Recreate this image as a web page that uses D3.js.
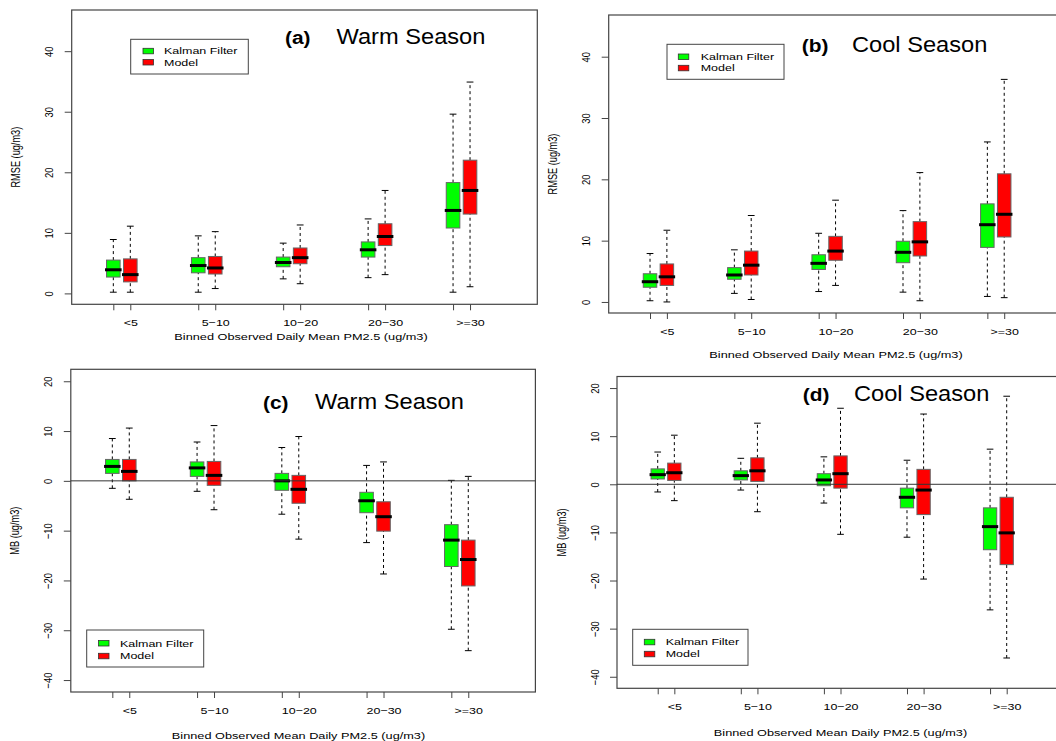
<!DOCTYPE html>
<html>
<head>
<meta charset="utf-8">
<script src="https://cdn.jsdelivr.net/npm/d3@7"></script>
<style>
  body { margin: 0; background: #fff; }
  svg { display: block; }
  text { font-family: "Liberation Sans", Arial, sans-serif; fill: #000; }
</style>
</head>
<body>
<div id="vis-container"></div>
<script>
// bins of observed PM2.5 (x categories)
const bins = ["<5", "5\u221210", "10\u221220", "20\u221230", ">=30"];
const seriesNames = ["Kalman Filter", "Model"];
const seriesColors = ["#00ff00", "#ff0000"];
const rmseTicks = [0, 10, 20, 30, 40];
const mbTicks = [-40, -30, -20, -10, 0, 10, 20];

// each box: [lower whisker, q1, median, q3, upper whisker]
const rmseWarmKalman = [[0.2, 2.7, 3.9, 5.5, 8.9], [0.2, 3.4, 4.6, 5.9, 9.5], [2.4, 4.4, 5.1, 6.0, 8.3], [2.6, 6.0, 7.2, 8.5, 12.3], [0.2, 10.8, 13.7, 18.3, 29.6]];
const rmseWarmModel = [[0.2, 1.9, 3.1, 5.7, 11.1], [0.8, 3.2, 4.2, 6.1, 10.2], [1.6, 4.9, 5.9, 7.5, 11.3], [3.1, 7.9, 9.4, 11.5, 17.0], [1.1, 13.1, 17.0, 22.0, 34.9]];
const rmseCoolKalman = [[0.2, 2.4, 3.3, 4.6, 7.9], [1.4, 3.7, 4.4, 5.6, 8.5], [1.7, 5.3, 6.3, 7.7, 11.2], [1.6, 6.4, 8.1, 9.9, 14.9], [0.9, 8.9, 12.6, 16.0, 26.1]];
const rmseCoolModel = [[0.0, 2.7, 4.1, 6.2, 11.7], [0.4, 4.4, 6.0, 8.3, 14.1], [2.7, 6.8, 8.3, 10.7, 16.6], [0.2, 7.5, 9.8, 13.1, 21.1], [0.7, 10.6, 14.3, 20.9, 36.3]];
const mbWarmKalman = [[-1.5, 1.5, 2.9, 4.3, 8.5], [-2.1, 0.9, 2.6, 3.8, 7.8], [-6.7, -1.9, 0.0, 1.5, 6.7], [-12.4, -6.4, -4.0, -2.3, 3.1], [-29.8, -17.2, -11.9, -8.8, 0.1]];
const mbWarmModel = [[-3.7, 0.0, 1.9, 4.3, 10.6], [-5.8, -0.9, 1.1, 3.9, 11.1], [-11.7, -4.5, -1.7, 1.1, 8.9], [-18.7, -10.1, -7.2, -4.2, 3.8], [-34.1, -21.1, -15.8, -11.9, 0.9]];
const mbCoolKalman = [[-1.6, 1.1, 2.0, 3.2, 6.7], [-1.2, 0.9, 1.8, 2.8, 5.4], [-3.9, -0.3, 0.9, 2.2, 5.7], [-11.0, -4.9, -2.7, -0.8, 5.0], [-26.1, -13.6, -8.8, -4.9, 7.3]];
const mbCoolModel = [[-3.4, 0.8, 2.4, 4.4, 10.2], [-5.7, 0.6, 2.8, 5.5, 12.7], [-10.4, -0.8, 2.2, 5.9, 15.8], [-19.7, -6.3, -1.2, 3.1, 14.6], [-36.1, -16.7, -10.1, -2.7, 18.3]];

const svg = d3
  .select("#vis-container")
  .append("svg")
  .attr("width", 1056)
  .attr("height", 741);

const panels = [
  {
    left: 71.7, right: 537.3, top: 10, bottom: 304.3, ylim: [-1.8, 46.8], ticks: rmseTicks,
    kalman: rmseWarmKalman, model: rmseWarmModel, ytitle: "RMSE (ug/m3)",
    xtitle: "Binned Observed Daily Mean PM2.5 (ug/m3)", xtitleX: 301, xtitleY: 340,
    tag: "(a)", tagX: 285, season: "Warm Season", seasonX: 336.5, titleY: 44.3,
    legend: { x: 130.7, y: 39.3, w: 117.6, h: 34.7, sq: 143, tx: 164, b1: 54.3, b2: 65.5 },
    zero: false
  },
  {
    left: 608.7, right: 1071, top: 15, bottom: 313, ylim: [-1.8, 46.8], ticks: rmseTicks,
    kalman: rmseCoolKalman, model: rmseCoolModel, ytitle: "RMSE (ug/m3)",
    xtitle: "Binned Observed Daily Mean PM2.5 (ug/m3)", xtitleX: 836, xtitleY: 357.5,
    tag: "(b)", tagX: 801.7, season: "Cool Season", seasonX: 852, titleY: 51.5,
    legend: { x: 667, y: 44.3, w: 117, h: 35, sq: 678.3, tx: 700.7, b1: 60, b2: 71.3 },
    zero: false
  },
  {
    left: 70.8, right: 535.4, top: 369.3, bottom: 692, ylim: [-42.4, 22.4], ticks: mbTicks,
    kalman: mbWarmKalman, model: mbWarmModel, ytitle: "MB (ug/m3)",
    xtitle: "Binned Observed Mean Daily PM2.5 (ug/m3)", xtitleX: 298.5, xtitleY: 739,
    tag: "(c)", tagX: 263, season: "Warm Season", seasonX: 315, titleY: 409.3,
    legend: { x: 86.7, y: 630, w: 117, h: 37, sq: 98.5, tx: 120, b1: 646.5, b2: 659.3 },
    zero: true
  },
  {
    left: 617, right: 1072.5, top: 376.5, bottom: 688.3, ylim: [-42.4, 22.4], ticks: mbTicks,
    kalman: mbCoolKalman, model: mbCoolModel, ytitle: "MB (ug/m3)",
    xtitle: "Binned Observed Mean Daily PM2.5 (ug/m3)", xtitleX: 840.5, xtitleY: 736,
    tag: "(d)", tagX: 802.7, season: "Cool Season", seasonX: 854, titleY: 400.7,
    legend: { x: 632.7, y: 629.3, w: 115.3, h: 36, sq: 644.3, tx: 665.7, b1: 645.3, b2: 657.3 },
    zero: true
  }
];

const drawPanel = (p) => {
  const g = svg.append("g");

  // box positions: kalman at 1,6,11,... model at 2,7,12,...
  const x = d3.scaleLinear().domain([-1.45, 25.96]).range([p.left, p.right]);
  const y = d3.scaleLinear().domain(p.ylim).range([p.bottom, p.top]);

  const boxes = [];
  bins.forEach((b, i) => {
    boxes.push({ pos: 5 * i + 1, s: p.kalman[i], color: seriesColors[0], label: "" });
    boxes.push({ pos: 5 * i + 2, s: p.model[i], color: seriesColors[1], label: b });
  });

  // frame
  g.append("rect")
    .attr("x", p.left).attr("y", p.top)
    .attr("width", p.right - p.left).attr("height", p.bottom - p.top)
    .attr("fill", "none").attr("stroke", "#444").attr("stroke-width", 1.2);

  // y axis
  g.append("g")
    .attr("transform", "translate(" + p.left + ",0)")
    .call(d3.axisLeft(y).tickValues(p.ticks).tickSize(7).tickFormat(d3.format("d")))
    .call((a) => a.select(".domain").remove())
    .call((a) => a.selectAll(".tick line").attr("stroke", "#444"))
    .call((a) =>
      a.selectAll(".tick text")
        .attr("x", null).attr("dy", null)
        .attr("text-anchor", "middle")
        .attr("font-size", 9.4)
        .attr("transform", "translate(-18.5,0) rotate(-90) scale(1,1.25)")
    );

  // x axis
  g.append("g")
    .attr("transform", "translate(0," + p.bottom + ")")
    .call(
      d3.axisBottom(x)
        .tickValues(boxes.map((d) => d.pos))
        .tickSize(6)
        .tickFormat((d, i) => boxes[i].label)
    )
    .call((a) => a.select(".domain").remove())
    .call((a) => a.selectAll(".tick line").attr("stroke", "#444"))
    .call((a) =>
      a.selectAll(".tick text")
        .attr("y", 22).attr("dy", null)
        .attr("font-size", 9.6)
        .attr("fill", "#222")
        .attr("transform", "scale(1.3,1)")
    );

  // axis titles
  g.append("text")
    .attr("text-anchor", "middle")
    .attr("font-size", 9.2)
    .attr("transform", "translate(" + (p.left - 51.5) + "," + (p.top + p.bottom) / 2 + ") rotate(-90) scale(1,1.3)")
    .text(p.ytitle);
  g.append("text")
    .attr("text-anchor", "middle")
    .attr("font-size", 9.8)
    .attr("fill", "#222")
    .attr("transform", "translate(" + p.xtitleX + "," + p.xtitleY + ") scale(1.3,1)")
    .text(p.xtitle);

  // whiskers (dashed) and staples
  const half = 0.4;
  const boxG = g.selectAll(".box").data(boxes).enter().append("g").attr("class", "box");
  [[0, 1], [3, 4]].forEach(([a, b]) => {
    boxG.append("line")
      .attr("x1", (d) => x(d.pos)).attr("x2", (d) => x(d.pos))
      .attr("y1", (d) => y(d.s[a])).attr("y2", (d) => y(d.s[b]))
      .attr("stroke", "#000").attr("stroke-dasharray", "3,3");
  });
  [0, 4].forEach((k) => {
    boxG.append("line")
      .attr("x1", (d) => x(d.pos - half / 2)).attr("x2", (d) => x(d.pos + half / 2))
      .attr("y1", (d) => y(d.s[k])).attr("y2", (d) => y(d.s[k]))
      .attr("stroke", "#000");
  });
  boxG.append("rect")
    .attr("x", (d) => x(d.pos - half))
    .attr("width", (d) => x(d.pos + half) - x(d.pos - half))
    .attr("y", (d) => y(d.s[3]))
    .attr("height", (d) => y(d.s[1]) - y(d.s[3]))
    .attr("fill", (d) => d.color)
    .attr("stroke", "#666");
  boxG.append("line")
    .attr("x1", (d) => x(d.pos - half) - 1.5).attr("x2", (d) => x(d.pos + half) + 1.5)
    .attr("y1", (d) => y(d.s[2])).attr("y2", (d) => y(d.s[2]))
    .attr("stroke", "#000").attr("stroke-width", 3);

  // zero reference line
  if (p.zero) {
    g.append("line")
      .attr("x1", p.left).attr("x2", p.right)
      .attr("y1", y(0)).attr("y2", y(0))
      .attr("stroke", "#333");
  }

  // panel title
  g.append("text")
    .attr("font-size", 19).attr("font-weight", "bold")
    .attr("transform", "translate(" + p.tagX + "," + p.titleY + ") scale(1.1,1)")
    .text(p.tag);
  g.append("text")
    .attr("font-size", 21.5)
    .attr("transform", "translate(" + p.seasonX + "," + p.titleY + ") scale(1.1,1)")
    .text(p.season);

  // legend
  const L = p.legend;
  g.append("rect")
    .attr("x", L.x).attr("y", L.y).attr("width", L.w).attr("height", L.h)
    .attr("fill", "#fff").attr("stroke", "#444");
  [L.b1, L.b2].forEach((b, i) => {
    g.append("rect")
      .attr("x", L.sq).attr("y", b - 6).attr("width", 10.5).attr("height", 5.5)
      .attr("fill", seriesColors[i]).attr("stroke", "#333").attr("stroke-width", 0.8);
    g.append("text")
      .attr("font-size", 9.6)
      .attr("transform", "translate(" + L.tx + "," + b + ") scale(1.3,1)")
      .text(seriesNames[i]);
  });
};

panels.forEach(drawPanel);
</script>
</body>
</html>
